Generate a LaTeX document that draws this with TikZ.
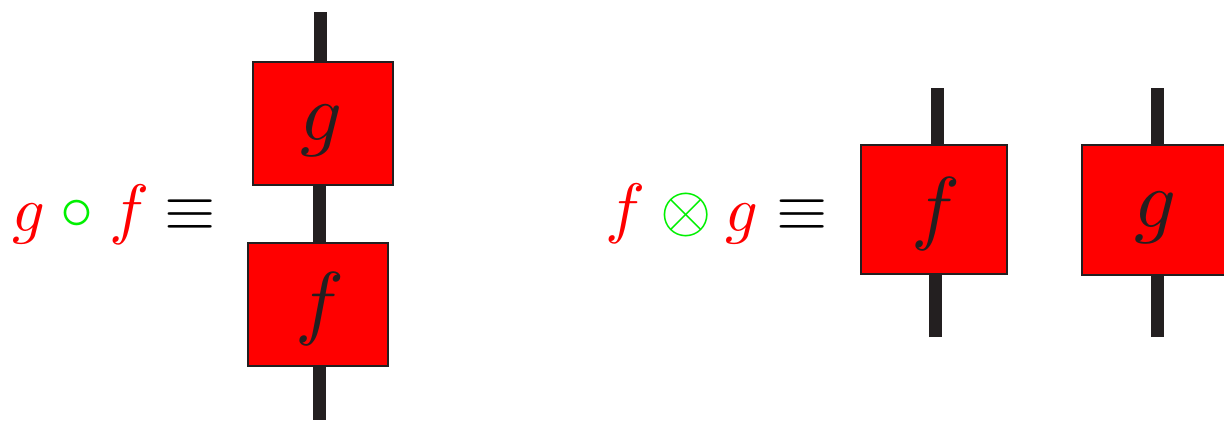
\documentclass[tikz,border=0pt]{standalone}
\definecolor{wire}{RGB}{35,31,32}
\definecolor{boxred}{RGB}{255,0,0}
\definecolor{opgreen}{RGB}{0,240,0}
\pgfdeclarelayer{background}
\pgfsetlayers{background,main}
\begin{document}
\begin{tikzpicture}[x=1pt,y=-1pt,
  wireline/.style={draw=wire,line width=13pt},
  fbox/.style={draw=wire,line width=1.6pt,fill=boxred,inner sep=0pt,minimum width=#1},
  fbox/.default=140pt,
  boxlbl/.style={inner sep=0pt,text=wire,scale=8.2},
  lbl/.style={inner sep=0pt,text=boxred,scale=6.7},
  glbl/.style={inner sep=0pt,text=boxred,scale=6.4},
  oplbl/.style={inner sep=0pt,text=opgreen,scale=6.6},
  eqlbl/.style={inner sep=0pt,text=black,scale=6.6}]
\useasboundingbox (0,0) rectangle (1224,421);
% left stack
\node[fbox,minimum height=123pt] (G1) at (323,123.5) {};
\node[fbox,minimum height=123pt] (F1) at (318,304.5) {};
\coordinate (t1) at (320,12);
\coordinate (b1) at (319,420);
\begin{pgfonlayer}{background}
\path[wireline] (t1) -- (t1 |- G1.north);
\path[wireline] (G1.south -| b1) -- (F1.north -| b1);
\path[wireline] (b1 |- F1.south) -- (b1);
\end{pgfonlayer}
\node[boxlbl] (gl1) at (322,131) {$g$};
\node[boxlbl] (fl1) at (320,309) {$f$};
% left formula
\node[glbl] (g2) at (29,223.5) {$g$};
\node[oplbl] (c2) at (77,215) {$\circ$};
\node[lbl] (f2) at (130,215) {$f$};
\node[eqlbl] (e2) at (190,215) {$\equiv$};
% right formula
\node[lbl] (f3) at (626,214) {$f$};
\node[oplbl] (o3) at (686,215) {$\otimes$};
\node[glbl] (g3) at (742,223.5) {$g$};
\node[eqlbl] (e3) at (802,215) {$\equiv$};
% right boxes
\node[fbox=146pt,minimum height=129pt] (F4) at (934,209.5) {};
\node[fbox=146pt,minimum height=130pt] (G4) at (1155,210) {};
\coordinate (ft) at (937,88);
\coordinate (fb) at (935,337);
\coordinate (gt) at (1157,88);
\coordinate (gb) at (1157,337);
\begin{pgfonlayer}{background}
\path[wireline] (ft) -- (ft |- F4.center);
\path[wireline] (fb) -- (fb |- F4.center);
\path[wireline] (gt) -- (gt |- G4.center);
\path[wireline] (gb) -- (gb |- G4.center);
\end{pgfonlayer}
\node[boxlbl] (fl4) at (936,214) {$f$};
\node[boxlbl] (gl4) at (1156,218) {$g$};
\end{tikzpicture}
\end{document}
